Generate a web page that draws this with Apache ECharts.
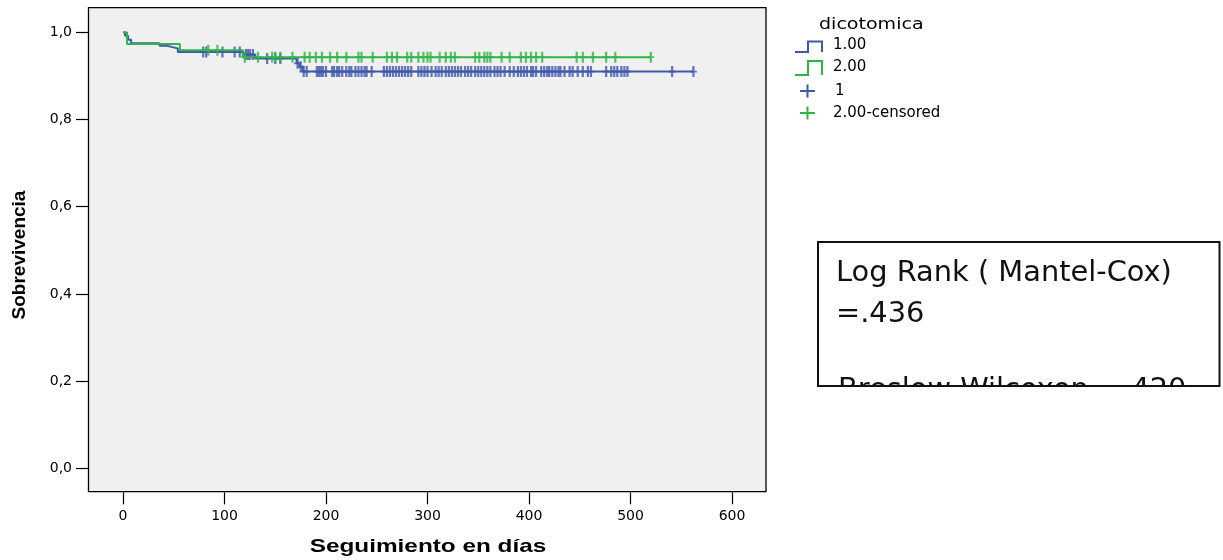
<!DOCTYPE html>
<html>
<head>
<meta charset="utf-8">
<script src="https://cdn.jsdelivr.net/npm/echarts@6/dist/echarts.min.js"></script>
<style>
  html, body { margin: 0; padding: 0; background: #ffffff; }
  #chart { width: 1223px; height: 560px; }
</style>
</head>
<body>
<div id="chart"></div>
<script>
// Kaplan-Meier survival by group "dicotomica"
// Step curves: day of each event and survival after it (last entry = end of follow-up)
const group1Days = [0, 2, 5, 8, 36, 43, 49, 54, 119, 130, 171, 174, 177, 562];
const group1Surv = [1, 0.992, 0.983, 0.975, 0.969, 0.966, 0.963, 0.955, 0.949, 0.940, 0.929, 0.921, 0.910, 0.910];
const group2Days = [0, 4, 56, 118, 520];
const group2Surv = [1, 0.973, 0.959, 0.943, 0.943];

// Censored observations (days)
const group1Censored = [79, 82, 98, 110, 115, 121, 123, 125, 128, 142, 150, 155, 172, 175, 178, 181, 191,
  193, 195, 197, 200, 206, 208, 211, 213, 216, 220, 223, 225, 229, 232, 235, 238, 240, 245,
  257, 260, 263, 266, 269, 272, 275, 278, 281, 284, 291, 294, 297, 300, 304, 308, 311, 314, 318,
  321, 324, 327, 330, 333, 337, 340, 343, 347, 350, 353, 356, 359, 362, 366, 369, 372, 376,
  381, 385, 389, 392, 395, 398, 402, 404, 407, 412, 415, 418, 420, 423, 426, 429, 431, 435,
  440, 443, 448, 453, 458, 461, 476, 481, 484, 487, 491, 494, 497, 541, 562];
const group2Censored = [84, 93, 120, 133, 147, 150, 155, 167, 179, 184, 190, 196, 204, 211, 220, 232, 235,
  246, 260, 265, 270, 280, 284, 291, 296, 300, 303, 312, 318, 323, 327, 347, 351, 356, 359, 362,
  373, 381, 392, 397, 402, 407, 413, 447, 453, 463, 476, 485, 520];

const xTickLabels = ['0', '100', '200', '300', '400', '500', '600'];
const yTickLabels = ['0,0', '0,2', '0,4', '0,6', '0,8', '1,0'];
const legendTitle = 'dicotomica';
const legendLabels = ['1.00', '2.00', '1', '2.00-censored'];
const testLines = ['Log Rank ( Mantel-Cox)', '=.436', 'Breslow Wilcoxon =.420'];

const BLUE = '#3E58AC';
const GREEN = '#2FB546';

function survivalAt(days, surv, t) {
  let s = surv[0];
  for (let i = 0; i < days.length; i++) {
    if (days[i] <= t) s = surv[i]; else break;
  }
  return s;
}

const curve = (days, surv) => days.map((d, i) => [d, surv[i]]);
const censorPts = (cens, days, surv) => cens.map(d => [d, survivalAt(days, surv, d)]);

const plusSymbol = 'path://M3.4,0H6.6V10H3.4Z M0,4.2H10V5.8H0Z';

const chart = echarts.init(document.getElementById('chart'), null, { renderer: 'canvas' });

const boxFont = '28px "DejaVu Sans", sans-serif';

const option = {
  animation: false,
  backgroundColor: '#ffffff',
  grid: { left: 123, right: 491, top: 32.3, bottom: 91.7 },
  xAxis: {
    type: 'value', min: 0, max: 600, interval: 100, offset: 24,
    axisLine: { show: false, onZero: false },
    axisTick: { show: true, length: 12, lineStyle: { color: '#000', width: 1.2 } },
    axisLabel: {
      color: '#000', fontFamily: 'DejaVu Sans', fontSize: 14, margin: 17,
      formatter: v => xTickLabels[Math.round(v / 100)]
    },
    splitLine: { show: false }
  },
  yAxis: {
    type: 'value', min: 0, max: 1, interval: 0.2, offset: 34,
    axisLine: { show: false, onZero: false },
    axisTick: { show: true, length: 13, lineStyle: { color: '#000', width: 1.2 } },
    axisLabel: {
      color: '#000', fontFamily: 'DejaVu Sans', fontSize: 14, margin: 17,
      formatter: v => yTickLabels[Math.round(v / 0.2)]
    },
    splitLine: { show: false }
  },
  series: [
    {
      type: 'line', step: 'end', data: curve(group1Days, group1Surv),
      symbol: 'none', lineStyle: { color: BLUE, width: 2 }, z: 2
    },
    {
      type: 'scatter', data: censorPts(group1Censored, group1Days, group1Surv),
      symbol: plusSymbol, symbolSize: [7, 11], itemStyle: { color: BLUE }, z: 3
    },
    {
      type: 'line', step: 'end', data: curve(group2Days, group2Surv),
      symbol: 'none', lineStyle: { color: GREEN, width: 2 }, z: 4
    },
    {
      type: 'scatter', data: censorPts(group2Censored, group2Days, group2Surv),
      symbol: plusSymbol, symbolSize: [7, 11], itemStyle: { color: GREEN }, z: 5
    }
  ],
  graphic: [
    // plot frame
    {
      type: 'rect', z: -10,
      shape: { x: 88.5, y: 7.7, width: 677.5, height: 484 },
      style: { fill: '#f0f0f0', stroke: '#000', lineWidth: 1.3 }
    },
    // axis titles
    {
      type: 'text', x: 19.5, y: 255, rotation: Math.PI / 2,
      style: { text: 'Sobrevivencia', x: 0, y: 0, textAlign: 'center', textVerticalAlign: 'middle',
        font: 'bold 19px "Liberation Sans", Arial, sans-serif', fill: '#000' }
    },
    {
      type: 'text', x: 428, y: 547, scaleX: 1.28,
      style: { text: 'Seguimiento en días', x: 0, y: 0, textAlign: 'center', textVerticalAlign: 'middle',
        font: 'bold 19px "Liberation Sans", Arial, sans-serif', fill: '#000' }
    },
    // legend
    {
      type: 'text', x: 819, y: 25, scaleX: 1.19,
      style: { text: legendTitle, x: 0, y: 0, textAlign: 'left', textVerticalAlign: 'middle',
        font: '16px "DejaVu Sans", sans-serif', fill: '#000' }
    },
    {
      type: 'polyline', shape: { points: [[795, 52], [808, 52], [808, 41.5], [822, 41.5], [822, 52]] },
      style: { stroke: BLUE, lineWidth: 2, fill: null }
    },
    {
      type: 'polyline', shape: { points: [[795, 75], [808, 75], [808, 61], [822, 61], [822, 75]] },
      style: { stroke: GREEN, lineWidth: 2, fill: null }
    },
    { type: 'line', shape: { x1: 800, y1: 91, x2: 815, y2: 91 }, style: { stroke: BLUE, lineWidth: 2 } },
    { type: 'line', shape: { x1: 807.5, y1: 84.5, x2: 807.5, y2: 97.5 }, style: { stroke: BLUE, lineWidth: 2 } },
    { type: 'line', shape: { x1: 800, y1: 113, x2: 815, y2: 113 }, style: { stroke: GREEN, lineWidth: 2 } },
    { type: 'line', shape: { x1: 807.5, y1: 106.5, x2: 807.5, y2: 119.5 }, style: { stroke: GREEN, lineWidth: 2 } },
    {
      type: 'text', x: 833, y: 45,
      style: { text: legendLabels[0], x: 0, y: 0, textVerticalAlign: 'middle',
        font: '15px "DejaVu Sans", sans-serif', fill: '#000' }
    },
    {
      type: 'text', x: 833, y: 67,
      style: { text: legendLabels[1], x: 0, y: 0, textVerticalAlign: 'middle',
        font: '15px "DejaVu Sans", sans-serif', fill: '#000' }
    },
    {
      type: 'text', x: 835, y: 91,
      style: { text: legendLabels[2], x: 0, y: 0, textVerticalAlign: 'middle',
        font: '15px "DejaVu Sans", sans-serif', fill: '#000' }
    },
    {
      type: 'text', x: 833, y: 113,
      style: { text: legendLabels[3], x: 0, y: 0, textVerticalAlign: 'middle',
        font: '15px "DejaVu Sans", sans-serif', fill: '#000' }
    },
    // test statistics box
    {
      type: 'rect', z: 10,
      shape: { x: 818, y: 242, width: 401.5, height: 144 },
      style: { fill: '#ffffff', stroke: null }
    },
    {
      type: 'text', z: 11, x: 836, y: 274, scaleX: 1.03,
      style: { text: testLines[0], x: 0, y: 0, textVerticalAlign: 'middle', font: boxFont, fill: '#111' }
    },
    {
      type: 'text', z: 11, x: 836, y: 315, scaleX: 1.03,
      style: { text: testLines[1], x: 0, y: 0, textVerticalAlign: 'middle', font: boxFont, fill: '#111' }
    },
    {
      type: 'text', z: 11, x: 838, y: 391, scaleX: 1.03,
      style: { text: testLines[2], x: 0, y: 0, textVerticalAlign: 'middle', font: boxFont, fill: '#111' }
    },
    {
      type: 'rect', z: 12,
      shape: { x: 805, y: 385, width: 418, height: 40 },
      style: { fill: '#ffffff', stroke: null }
    },
    {
      type: 'rect', z: 13,
      shape: { x: 818, y: 242, width: 401.5, height: 144 },
      style: { fill: null, stroke: '#111', lineWidth: 2 }
    }
  ]
};

chart.setOption(option);
</script>
</body>
</html>
